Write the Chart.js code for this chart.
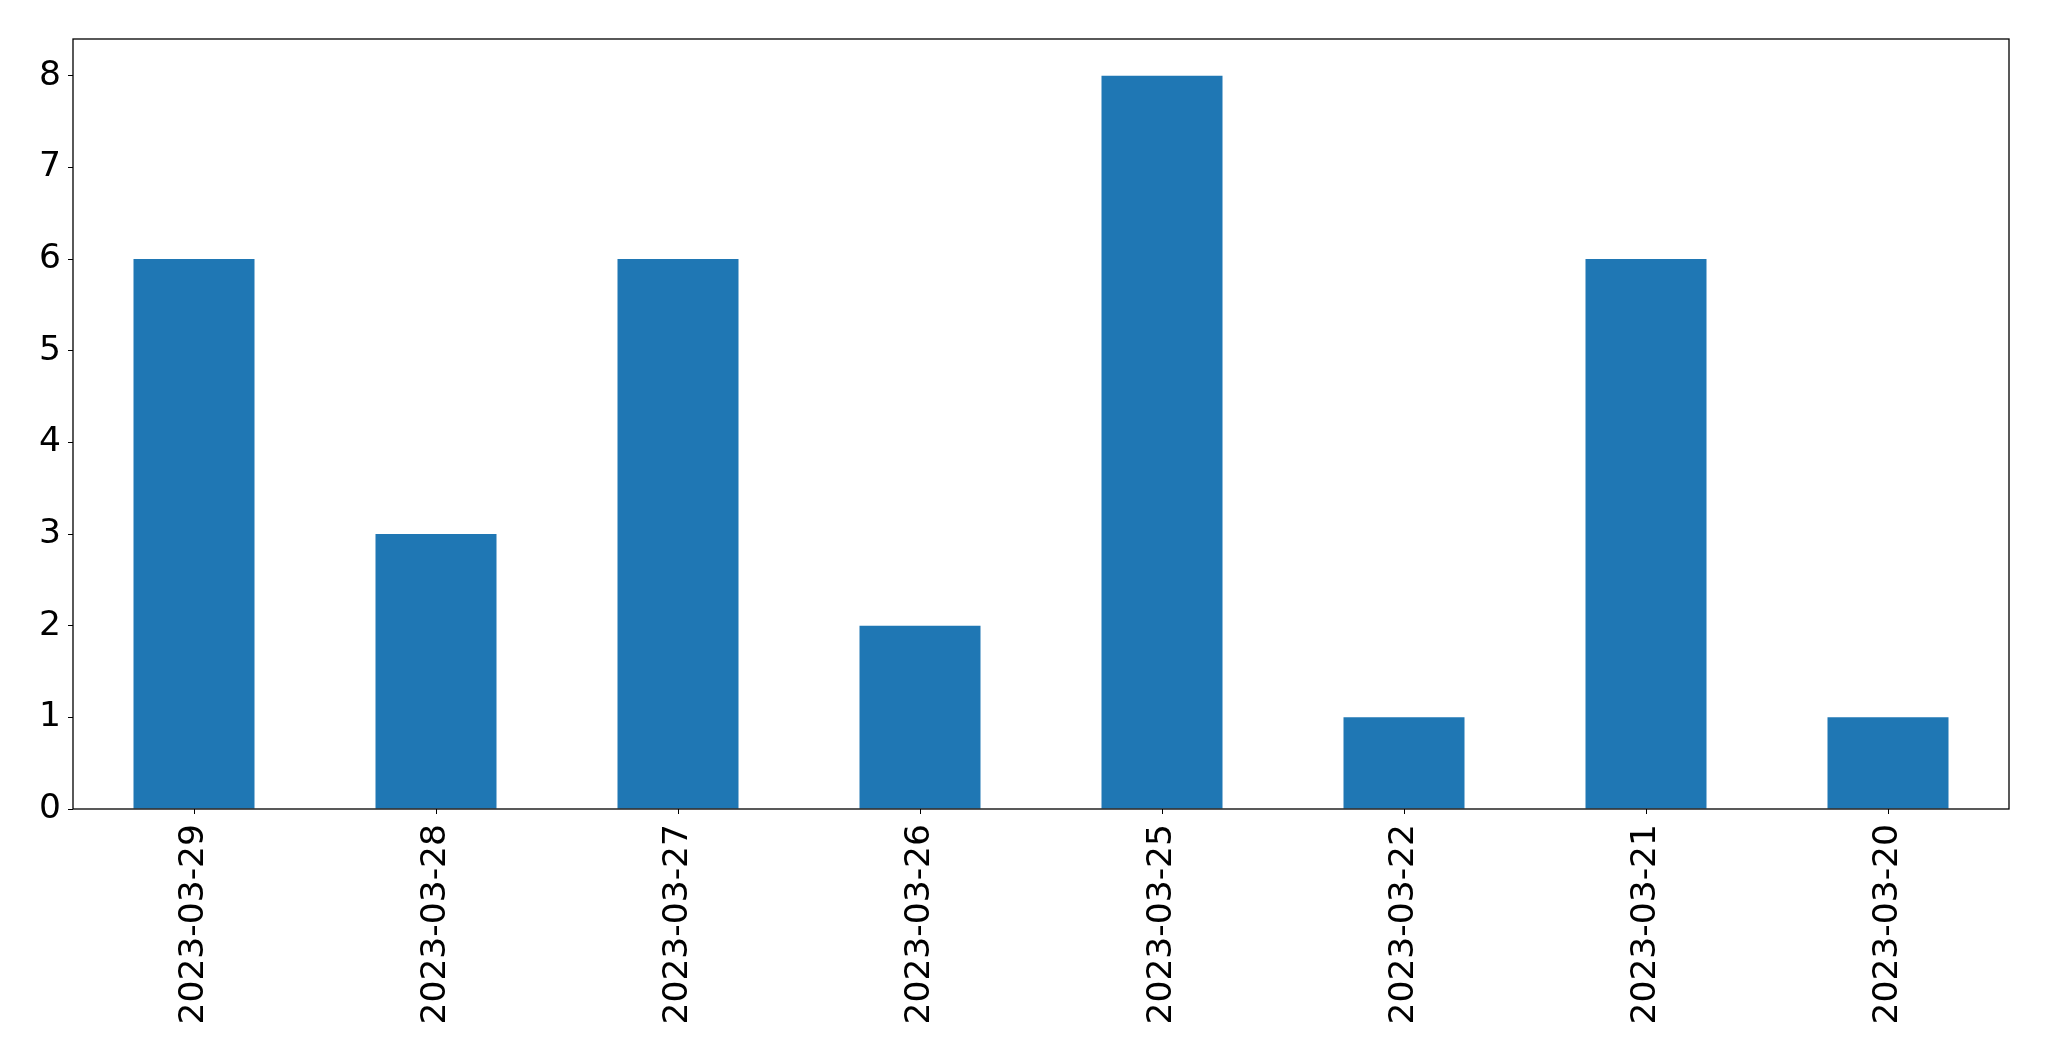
<!DOCTYPE html>
<html>
<head>
<meta charset="utf-8">
<script src="https://cdn.jsdelivr.net/npm/chart.js@4.4.0/dist/chart.umd.min.js"></script>
<style>
    html, body { margin: 0; padding: 0; background: #fff; }
    #wrap { width: 2049px; height: 1061px; }
</style>
</head>
<body>
<div id="wrap"><canvas id="barChart" width="2049" height="1061"></canvas></div>
<script>
// ===========================
// Data
// ===========================
const dates = ['2023-03-29', '2023-03-28', '2023-03-27', '2023-03-26', '2023-03-25', '2023-03-22', '2023-03-21', '2023-03-20'];
const counts = [6, 3, 6, 2, 8, 1, 6, 1];
const yTicks = [0, 1, 2, 3, 4, 5, 6, 7, 8];

// draws the full frame round the plot area (matplotlib style box)
const frameBox = {
    id: 'frameBox',
    afterDraw(chart) {
        const { ctx, chartArea: a } = chart;
        ctx.save();
        ctx.strokeStyle = '#000';
        ctx.lineWidth = 1.3;
        ctx.strokeRect(a.left, a.top, a.right - a.left, a.bottom - a.top);
        ctx.restore();
    },
};

const ctx = document.getElementById('barChart').getContext('2d');

new Chart(ctx, {
    type: 'bar',
    data: {
        labels: dates,
        datasets: [{
            data: counts,
            backgroundColor: '#1f77b4',
            borderWidth: 0,
            barPercentage: 0.5,
            categoryPercentage: 1.0,
        }],
    },
    options: {
        responsive: false,
        animation: false,
        layout: {
            padding: { left: 0, top: 39, right: 40, bottom: 0 },
        },
        plugins: {
            legend: { display: false },
            tooltip: { enabled: false },
        },
        scales: {
            x: {
                offset: true,
                grid: {
                    display: true,
                    offset: false,
                    drawOnChartArea: false,
                    drawTicks: true,
                    tickLength: 5,
                    tickColor: '#000',
                },
                border: { display: false },
                ticks: {
                    color: '#000',
                    font: { family: 'DejaVu Sans', size: 34.5 },
                    minRotation: 90,
                    maxRotation: 90,
                    padding: 10,
                    autoSkip: false,
                },
                afterFit(scale) { scale.height = 252; },
            },
            y: {
                min: 0,
                max: 8.4,
                grid: {
                    display: true,
                    drawOnChartArea: false,
                    drawTicks: true,
                    tickLength: 5,
                    tickColor: '#000',
                },
                border: { display: false },
                ticks: {
                    color: '#000',
                    font: { family: 'DejaVu Sans', size: 34.5 },
                    padding: 7,
                },
                afterBuildTicks(scale) {
                    scale.ticks = yTicks.map(v => ({ value: v }));
                },
                afterFit(scale) { scale.width = 73; },
            },
        },
    },
    plugins: [frameBox],
});
</script>
</body>
</html>
